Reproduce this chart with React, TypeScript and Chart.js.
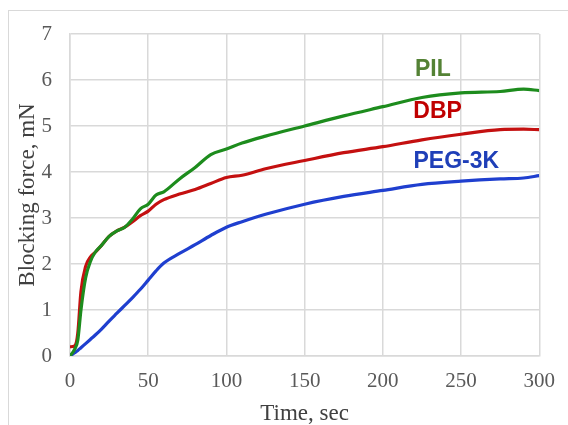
import React, { useEffect, useRef } from "react";
import { Chart, registerables } from "chart.js";

Chart.register(...registerables);

const times = [0, 3, 5, 7, 10, 13, 16, 20, 25, 30, 35, 40, 45, 50, 55, 60, 70, 80, 90, 100, 110, 125, 150, 175, 200, 225, 250, 275, 290, 300];
const pilValues = [0, 0.15, 0.35, 1.0, 1.7, 2.05, 2.25, 2.4, 2.6, 2.72, 2.8, 2.98, 3.2, 3.3, 3.5, 3.57, 3.85, 4.1, 4.38, 4.5, 4.63, 4.78, 5.0, 5.22, 5.42, 5.62, 5.72, 5.75, 5.8, 5.77];
const dbpValues = [0.2, 0.22, 0.5, 1.4, 1.95, 2.15, 2.25, 2.4, 2.6, 2.72, 2.8, 2.92, 3.05, 3.15, 3.3, 3.4, 3.52, 3.62, 3.75, 3.88, 3.93, 4.07, 4.25, 4.42, 4.55, 4.7, 4.82, 4.92, 4.93, 4.92];
const pegValues = [0, 0.07, 0.12, 0.18, 0.27, 0.36, 0.45, 0.58, 0.76, 0.93, 1.1, 1.27, 1.45, 1.65, 1.85, 2.02, 2.23, 2.42, 2.62, 2.8, 2.92, 3.08, 3.3, 3.47, 3.6, 3.73, 3.8, 3.85, 3.87, 3.92];

const seriesNames = ["PIL", "DBP", "PEG-3K"];
const lineColors = ["#1d8c1d", "#c41010", "#1f3fcf"];
const labelColors = ["#548235", "#c00000", "#1f3fb8"];
const labelX = [232, 235, 247];
const labelY = [6.22, 5.31, 4.22];

const xTicks = [0, 50, 100, 150, 200, 250, 300];
const yTicks = [0, 1, 2, 3, 4, 5, 6, 7];

const labelPlugin = {
  id: "seriesLabels",
  afterDatasetsDraw(chart: any) {
    const { ctx, scales } = chart;
    ctx.save();
    ctx.font = "bold 23px 'Liberation Sans', Arial, sans-serif";
    ctx.textAlign = "center";
    ctx.textBaseline = "middle";
    seriesNames.forEach((name, i) => {
      ctx.fillStyle = labelColors[i];
      ctx.fillText(name, scales.x.getPixelForValue(labelX[i]), scales.y.getPixelForValue(labelY[i]));
    });
    ctx.restore();
  },
};

export default function App() {
  const ref = useRef<HTMLCanvasElement>(null);
  useEffect(() => {
    const series = [pilValues, dbpValues, pegValues];
    const chart = new Chart(ref.current!, {
      type: "line",
      data: {
        datasets: series.map((vals, i) => ({
          label: seriesNames[i],
          data: times.map((t, j) => ({ x: t, y: vals[j] })),
          borderColor: lineColors[i],
          borderWidth: 3.2,
          pointRadius: 0,
          cubicInterpolationMode: "monotone" as const,
          fill: false,
        })),
      },
      options: {
        responsive: false,
        animation: false,
        layout: { padding: { left: 0, top: 34, right: 27, bottom: 0 } },
        plugins: { legend: { display: false }, tooltip: { enabled: false } },
        scales: {
          x: {
            type: "linear",
            min: 0,
            max: 300,
            afterFit: (s: any) => { s.height = 69; },
            afterBuildTicks: (s: any) => { s.ticks = xTicks.map((v) => ({ value: v })); },
            grid: { color: "#d9d9d9", lineWidth: 1.5, drawTicks: false },
            border: { color: "#d9d9d9", width: 1.5 },
            ticks: { color: "#595959", padding: 13, font: { family: "'Liberation Serif', 'Times New Roman', serif", size: 21 } },
            title: {
              display: true,
              text: "Time, sec",
              color: "#404040",
              padding: { top: 0, bottom: 0 },
              font: { family: "'Liberation Serif', 'Times New Roman', serif", size: 23, lineHeight: 1 },
            },
          },
          y: {
            min: 0,
            max: 7,
            afterFit: (s: any) => { s.width = 70; },
            afterBuildTicks: (s: any) => { s.ticks = yTicks.map((v) => ({ value: v })); },
            grid: { color: "#d9d9d9", lineWidth: 1.5, drawTicks: false },
            border: { color: "#d9d9d9", width: 1.5 },
            ticks: { color: "#595959", padding: 18, font: { family: "'Liberation Serif', 'Times New Roman', serif", size: 21 } },
            title: {
              display: true,
              text: "Blocking force, mN",
              color: "#404040",
              padding: { top: 16, bottom: 0 },
              font: { family: "'Liberation Serif', 'Times New Roman', serif", size: 23, lineHeight: 1 },
            },
          },
        },
      },
      plugins: [labelPlugin],
    });
    return () => chart.destroy();
  }, []);

  return (
    <div style={{ position: "fixed", left: 0, top: 0, width: 568, height: 425, overflow: "hidden", background: "#fff" }}>
      <div style={{ position: "absolute", left: 8, top: 10, width: 700, height: 600, border: "1.5px solid #d9d9d9" }} />
      <canvas ref={ref} width={568} height={425} style={{ position: "absolute", left: 0, top: 0 }} />
    </div>
  );
}
